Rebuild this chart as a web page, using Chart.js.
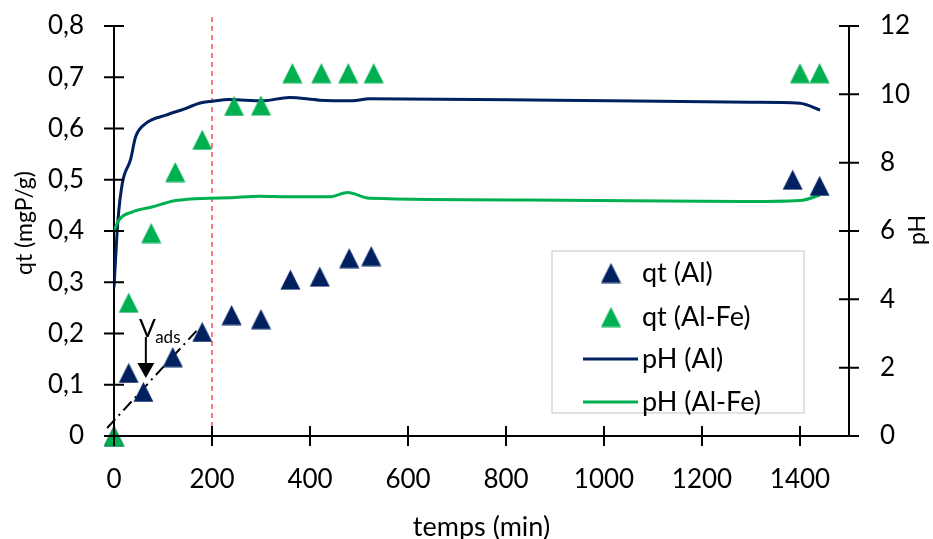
<!DOCTYPE html>
<html><head><meta charset="utf-8">
<script src="https://cdn.jsdelivr.net/npm/chart.js@4.4.0/dist/chart.umd.min.js"></script>
<style>html,body{margin:0;padding:0;background:#fff}#wrap{width:933px;height:539px;position:relative}</style>
</head><body><div id="wrap"><canvas id="c"></canvas></div>
<script>
// ---- data ----
const timeAl   = [0, 30, 60, 120, 180, 240, 300, 360, 420, 480, 525, 1385, 1440];
const qtAl     = [0, 0.123, 0.086, 0.154, 0.203, 0.236, 0.228, 0.305, 0.311, 0.347, 0.351, 0.500, 0.488];
const timeAlFe = [0, 30, 76, 125, 180, 245, 300, 364, 423, 478, 530, 1400, 1440];
const qtAlFe   = [0, 0.260, 0.396, 0.515, 0.578, 0.644, 0.645, 0.708, 0.708, 0.708, 0.708, 0.708, 0.708];
const timePhAl = [0, 8, 17, 34, 44, 65, 106, 147, 174, 201, 235, 303, 358, 419, 487, 521, 900, 1300, 1400, 1441];
const phAl     = [4.35, 6.3, 7.4, 8.1, 8.75, 9.15, 9.39, 9.59, 9.74, 9.80, 9.85, 9.81, 9.91, 9.83, 9.81, 9.87, 9.83, 9.77, 9.74, 9.54];
const timePhAlFe = [0, 10, 38, 79, 126, 194, 235, 296, 360, 440, 477, 521, 848, 1278, 1400, 1441];
const phAlFe     = [6.0, 6.32, 6.56, 6.71, 6.89, 6.96, 6.97, 7.02, 7.0, 7.0, 7.13, 6.96, 6.91, 6.86, 6.89, 7.05];
const xTicks  = [0, 200, 400, 600, 800, 1000, 1200, 1400];
const qtTicks = [0, 0.1, 0.2, 0.3, 0.4, 0.5, 0.6, 0.7, 0.8];
const phTicks = [0, 2, 4, 6, 8, 10, 12];
const refTime = [200, 200];
const refQt   = [0, 0.8176];
const vadsTime = [-14, 174];
const vadsQt   = [0.0156, 0.211];
const labels = ['qt (Al)', 'qt (Al-Fe)', 'pH (Al)', 'pH (Al-Fe)'];

const NAVY = '#002060', GREEN = '#00B050';
const FONT = 'Lato';

function tri(color){
  const c = document.createElement('canvas'); c.width = 21; c.height = 21;
  const g = c.getContext('2d'); g.fillStyle = color;
  g.beginPath(); g.moveTo(10.5, 0.5); g.lineTo(20.5, 20.5); g.lineTo(0.5, 20.5); g.closePath(); g.fill();
  return c;
}
const triNavy = tri(NAVY), triGreen = tri(GREEN);
const xy = (xs, ys) => xs.map((x, i) => ({x, y: ys[i]}));
const comma = v => v === 0 ? '0' : v.toFixed(1).replace('.', ',');
const vfit = w => s => { s.width = w; s.paddingTop = 0; s.paddingBottom = 0; };

const extras = {
  id: 'extras',
  afterDraw(chart) {
    const ctx = chart.ctx, a = chart.chartArea;
    const sx = chart.scales.x, sy = chart.scales.y, sy1 = chart.scales.y1;
    ctx.save();
    ctx.strokeStyle = '#000'; ctx.lineWidth = 2;
    // crossing tick marks
    ctx.beginPath();
    xTicks.forEach(v => { const p = sx.getPixelForValue(v); ctx.moveTo(p, a.bottom - 10); ctx.lineTo(p, a.bottom + 10); });
    qtTicks.forEach(v => { const p = sy.getPixelForValue(v); ctx.moveTo(a.left - 10, p); ctx.lineTo(a.left + 10, p); });
    phTicks.forEach(v => { const p = sy1.getPixelForValue(v); ctx.moveTo(a.right - 10, p); ctx.lineTo(a.right + 10, p); });
    ctx.stroke();

    // axis titles
    ctx.fillStyle = '#000'; ctx.textAlign = 'center'; ctx.textBaseline = 'middle';
    ctx.font = '27px ' + FONT;
    ctx.fillText('temps (min)', (a.left + a.right) / 2, 527);
    ctx.font = '23px ' + FONT;
    ctx.save(); ctx.translate(25, 223); ctx.rotate(-Math.PI / 2); ctx.fillText('qt (mgP/g)', 0, 0); ctx.restore();
    ctx.save(); ctx.translate(918, 230); ctx.rotate(-Math.PI / 2); ctx.fillText('pH', 0, 0); ctx.restore();

    // V_ads annotation
    const ax = sx.getPixelForValue(65), ay0 = sy.getPixelForValue(0.193), ay1 = sy.getPixelForValue(0.113);
    ctx.beginPath(); ctx.moveTo(ax, ay0); ctx.lineTo(ax, ay1 - 12); ctx.stroke();
    ctx.fillStyle = '#000';
    ctx.beginPath(); ctx.moveTo(ax - 8.5, ay1 - 15); ctx.lineTo(ax + 8.5, ay1 - 15); ctx.lineTo(ax, ay1); ctx.closePath(); ctx.fill();
    ctx.textAlign = 'left'; ctx.textBaseline = 'alphabetic';
    ctx.font = '25px ' + FONT;
    ctx.fillText('V', sx.getPixelForValue(51), sy.getPixelForValue(0.193));
    ctx.font = '17px ' + FONT;
    ctx.fillText('ads', sx.getPixelForValue(84), sy.getPixelForValue(0.181));

    // legend
    const lx = 552, ly = 251, lw = 252, lh = 162;
    ctx.fillStyle = '#fff'; ctx.fillRect(lx, ly, lw, lh);
    ctx.strokeStyle = '#D9D9D9'; ctx.lineWidth = 1.5; ctx.strokeRect(lx, ly, lw, lh);
    const rows = [273, 317, 359, 402];
    ctx.font = '27px ' + FONT; ctx.textBaseline = 'middle'; ctx.textAlign = 'left';
    chart.data.datasets.slice(0, 4).forEach((ds, i) => {
      const y = rows[i];
      if (i < 2) {
        ctx.drawImage(ds.pointStyle, 611 - 10.5, y - 10.5);
      } else {
        ctx.strokeStyle = ds.borderColor; ctx.lineWidth = 3;
        ctx.beginPath(); ctx.moveTo(583, y); ctx.lineTo(638, y); ctx.stroke();
      }
      ctx.fillStyle = '#000';
      ctx.fillText(ds.label, 642, y);
    });
    ctx.restore();
  }
};

new Chart(document.getElementById('c'), {
  type: 'scatter',
  data: {
    datasets: [
      { label: labels[0], data: xy(timeAl, qtAl), yAxisID: 'y', pointStyle: triNavy, pointRadius: 10, showLine: false, order: 2, clip: false,
        backgroundColor: NAVY, borderColor: NAVY },
      { label: labels[1], data: xy(timeAlFe, qtAlFe), yAxisID: 'y', pointStyle: triGreen, pointRadius: 10, showLine: false, order: 1, clip: false,
        backgroundColor: GREEN, borderColor: GREEN },
      { label: labels[2], type: 'line', data: xy(timePhAl, phAl), yAxisID: 'y1', borderColor: NAVY, borderWidth: 3,
        pointRadius: 0, cubicInterpolationMode: 'monotone', fill: false, order: 4 },
      { label: labels[3], type: 'line', data: xy(timePhAlFe, phAlFe), yAxisID: 'y1', borderColor: GREEN, borderWidth: 3,
        pointRadius: 0, cubicInterpolationMode: 'monotone', fill: false, order: 3 },
      { label: 'ref', type: 'line', data: xy(refTime, refQt), yAxisID: 'y', borderColor: '#FF5050', borderWidth: 1.5,
        borderDash: [5, 4], pointRadius: 0, clip: false, order: 6 },
      { label: 'vads', type: 'line', data: xy(vadsTime, vadsQt), yAxisID: 'y', borderColor: '#000', borderWidth: 2,
        borderDash: [12, 5, 2, 5], pointRadius: 0, clip: false, order: 5 }
    ]
  },
  options: {
    responsive: true, maintainAspectRatio: false, animation: false, events: [],
    layout: { padding: { top: 26, left: 0, right: 0, bottom: 0 } },
    plugins: { legend: { display: false }, tooltip: { enabled: false } },
    scales: {
      x: {
        type: 'linear', position: 'bottom', min: 0, max: 1500,
        afterBuildTicks: s => { s.ticks = xTicks.map(v => ({ value: v })); },
        afterFit: s => { s.height = 103; s.paddingLeft = 0; s.paddingRight = 0; },
        grid: { display: false, drawTicks: false },
        border: { display: true, color: '#000', width: 2 },
        ticks: { font: { family: FONT, size: 26 }, color: '#000', padding: 28, maxRotation: 0, autoSkip: false,
                 callback: v => String(v) }
      },
      y: {
        type: 'linear', position: 'left', min: 0, max: 0.8,
        afterBuildTicks: s => { s.ticks = qtTicks.map(v => ({ value: v })); },
        afterFit: vfit(114),
        grid: { display: false, drawTicks: false },
        border: { display: true, color: '#000', width: 2 },
        ticks: { font: { family: FONT, size: 26 }, color: '#000', padding: 30, callback: comma, autoSkip: false }
      },
      y1: {
        type: 'linear', position: 'right', min: 0, max: 12,
        afterBuildTicks: s => { s.ticks = phTicks.map(v => ({ value: v })); },
        afterFit: vfit(84),
        grid: { display: false, drawTicks: false },
        border: { display: true, color: '#000', width: 2 },
        ticks: { font: { family: FONT, size: 26 }, color: '#000', padding: 31, autoSkip: false }
      }
    }
  },
  plugins: [extras]
});
</script>
</body></html>
